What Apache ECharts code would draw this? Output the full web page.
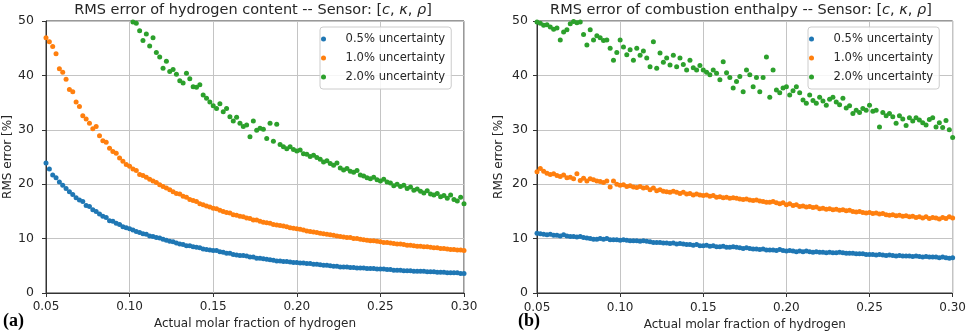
<!DOCTYPE html>
<html>
<head>
<meta charset="utf-8">
<script src="https://cdn.jsdelivr.net/npm/echarts@6/dist/echarts.min.js"></script>
<style>
  html, body { margin: 0; padding: 0; background: #fff; }
  #main { width: 969px; height: 336px; }
</style>
</head>
<body>
<div id="main"></div>
<script>
  // x samples (actual molar fraction of hydrogen)
  var molarFraction = [
    0.050, 0.052, 0.054, 0.056, 0.058, 0.060, 0.062, 0.064, 0.066, 0.068,
    0.070, 0.072, 0.074, 0.076, 0.078, 0.080, 0.082, 0.084, 0.086, 0.088,
    0.090, 0.092, 0.094, 0.096, 0.098, 0.100, 0.102, 0.104, 0.106, 0.108,
    0.110, 0.112, 0.114, 0.116, 0.118, 0.120, 0.122, 0.124, 0.126, 0.128,
    0.130, 0.132, 0.134, 0.136, 0.138, 0.140, 0.142, 0.144, 0.146, 0.148,
    0.150, 0.152, 0.154, 0.156, 0.158, 0.160, 0.162, 0.164, 0.166, 0.168,
    0.170, 0.172, 0.174, 0.176, 0.178, 0.180, 0.182, 0.184, 0.186, 0.188,
    0.190, 0.192, 0.194, 0.196, 0.198, 0.200, 0.202, 0.204, 0.206, 0.208,
    0.210, 0.212, 0.214, 0.216, 0.218, 0.220, 0.222, 0.224, 0.226, 0.228,
    0.230, 0.232, 0.234, 0.236, 0.238, 0.240, 0.242, 0.244, 0.246, 0.248,
    0.250, 0.252, 0.254, 0.256, 0.258, 0.260, 0.262, 0.264, 0.266, 0.268,
    0.270, 0.272, 0.274, 0.276, 0.278, 0.280, 0.282, 0.284, 0.286, 0.288,
    0.290, 0.292, 0.294, 0.296, 0.298, 0.300
  ];

  var seriesNames = ['0.5% uncertainty', '1.0% uncertainty', '2.0% uncertainty'];
  var seriesColors = ['#1f77b4', '#ff7f0e', '#2ca02c'];
  var xTickValues = [0.05, 0.10, 0.15, 0.20, 0.25, 0.30];

  // (a) RMS error of hydrogen content [%]
  var hydrogen05 = [
    23.9, 22.8, 21.7, 21.2, 20.4, 19.8, 19.2, 18.6, 18.1, 17.5,
    17.1, 16.8, 16.1, 15.9, 15.3, 15.0, 14.5, 14.1, 13.9, 13.3,
    13.2, 12.8, 12.6, 12.2, 12.0, 11.8, 11.6, 11.3, 11.1, 10.9,
    10.8, 10.5, 10.4, 10.2, 10.1, 9.9, 9.7, 9.5, 9.4, 9.2,
    9.0, 8.9, 8.7, 8.7, 8.5, 8.4, 8.3, 8.1, 8.0, 7.9,
    7.8, 7.8, 7.6, 7.5, 7.3, 7.3, 7.1, 7.0, 6.9, 6.9,
    6.8, 6.6, 6.6, 6.4, 6.4, 6.3, 6.2, 6.1, 6.0, 5.9,
    5.9, 5.8, 5.8, 5.7, 5.6, 5.6, 5.5, 5.5, 5.4, 5.4,
    5.3, 5.3, 5.2, 5.1, 5.1, 5.0, 4.9, 4.9, 4.8, 4.8,
    4.8, 4.7, 4.7, 4.6, 4.6, 4.6, 4.5, 4.5, 4.5, 4.4,
    4.4, 4.4, 4.3, 4.3, 4.2, 4.2, 4.2, 4.1, 4.1, 4.1,
    4.0, 4.0, 4.0, 4.0, 3.9, 3.9, 3.9, 3.8, 3.8, 3.8,
    3.7, 3.7, 3.7, 3.7, 3.6, 3.6
  ];
  var hydrogen10 = [
    46.9, 46.2, 45.3, 44.0, 41.2, 40.6, 39.3, 37.4, 37.0, 35.1,
    34.3, 32.6, 32.0, 31.2, 30.2, 30.6, 28.9, 28.0, 27.7, 26.6,
    26.0, 25.7, 24.8, 24.2, 23.6, 23.3, 22.8, 22.5, 21.8, 21.6,
    21.3, 20.9, 20.6, 20.3, 19.9, 19.6, 19.3, 19.0, 18.6, 18.3,
    18.2, 17.8, 17.6, 17.2, 17.0, 16.8, 16.4, 16.2, 16.0, 15.8,
    15.6, 15.5, 15.2, 15.0, 14.8, 14.7, 14.4, 14.3, 14.1, 14.0,
    13.8, 13.7, 13.4, 13.4, 13.2, 13.0, 12.9, 12.8, 12.6, 12.5,
    12.4, 12.3, 12.2, 12.0, 11.9, 11.8, 11.7, 11.6, 11.4, 11.3,
    11.2, 11.1, 11.0, 10.9, 10.8, 10.7, 10.6, 10.5, 10.4, 10.3,
    10.2, 10.2, 10.0, 10.0, 9.9, 9.8, 9.7, 9.6, 9.6, 9.5,
    9.4, 9.3, 9.3, 9.2, 9.1, 9.0, 9.0, 8.9, 8.8, 8.8,
    8.7, 8.6, 8.6, 8.5, 8.5, 8.4, 8.3, 8.3, 8.2, 8.2,
    8.1, 8.0, 8.0, 7.9, 7.9, 7.8
  ];
  var hydrogen20 = [
    null, null, null, null, null, null, null, null, null, null,
    null, null, null, null, null, null, null, null, null, null,
    null, null, null, null, null, null, 49.8, 49.6, 48.2, 46.4,
    47.6, 45.4, 46.9, 44.2, 43.4, 41.3, 42.6, 40.7, 41.1, 40.2,
    39.0, 38.6, 40.4, 39.4, 37.9, 37.8, 38.3, 36.4, 35.8, 35.1,
    34.4, 33.9, 34.8, 33.3, 33.9, 32.4, 31.6, 32.3, 31.2, 30.6,
    30.9, 28.7, 31.6, 29.9, 30.3, 30.1, 28.4, 31.2, 27.9, 31.0,
    27.3, 26.9, 26.5, 26.9, 26.4, 26.1, 26.3, 25.6, 25.5, 25.1,
    25.3, 24.9, 24.6, 24.1, 24.3, 23.8, 23.5, 23.9, 23.0, 22.6,
    22.9, 22.4, 22.2, 22.5, 21.7, 21.5, 21.2, 21.0, 21.3, 20.8,
    20.6, 20.9, 20.4, 20.2, 19.7, 20.0, 19.6, 19.8, 19.2, 19.5,
    18.9, 19.1, 18.7, 18.4, 18.8, 18.2, 18.0, 18.3, 17.7, 17.9,
    17.4, 18.0, 17.2, 16.9, 17.6, 16.4
  ];

  // (b) RMS error of combustion enthalpy [%]
  var enthalpy05 = [
    11.0, 10.9, 10.8, 10.7, 10.8, 10.6, 10.6, 10.5, 10.7, 10.5,
    10.4, 10.4, 10.3, 10.4, 10.2, 10.1, 10.0, 9.9, 9.9, 10.0,
    9.9, 10.0, 9.8, 9.8, 9.8, 9.7, 9.8, 9.7, 9.6, 9.6,
    9.6, 9.5, 9.6, 9.5, 9.4, 9.3, 9.3, 9.3, 9.2, 9.2,
    9.1, 9.2, 9.0, 9.1, 9.0, 8.9, 8.9, 8.8, 8.9, 8.7,
    8.7, 8.8, 8.6, 8.7, 8.5, 8.5, 8.6, 8.4, 8.4, 8.5,
    8.4, 8.3, 8.2, 8.3, 8.2, 8.1, 8.1, 8.0, 8.1, 7.9,
    7.9, 7.9, 7.8, 8.0, 7.8, 7.7, 7.8, 7.7, 7.6, 7.7,
    7.6, 7.7, 7.6, 7.5, 7.6, 7.5, 7.5, 7.4, 7.5, 7.4,
    7.4, 7.5, 7.4, 7.3, 7.3, 7.3, 7.2, 7.2, 7.2, 7.1,
    7.1, 7.1, 7.0, 7.1, 7.0, 6.9, 7.0, 6.9, 6.8, 6.9,
    6.8, 6.8, 6.8, 6.7, 6.8, 6.7, 6.6, 6.7, 6.6, 6.6,
    6.6, 6.5, 6.6, 6.5, 6.4, 6.5
  ];
  var enthalpy10 = [
    22.3, 22.9, 22.4, 22.0, 21.8, 21.9, 21.6, 21.4, 21.7, 21.2,
    21.3, 21.0, 21.9, 20.7, 21.1, 20.6, 21.0, 20.8, 20.6, 20.5,
    20.3, 20.6, 19.5, 20.6, 20.0, 19.8, 19.9, 19.6, 19.7, 19.5,
    19.4, 19.6, 19.3, 19.4, 19.0, 19.3, 18.8, 19.0, 18.7, 18.6,
    18.5, 18.7, 18.5, 18.3, 18.5, 18.2, 18.3, 18.0, 18.2, 18.0,
    17.9, 18.0, 17.8, 17.9, 17.6, 17.7, 17.5, 17.6, 17.4, 17.5,
    17.4, 17.3, 17.2, 17.3, 17.1, 17.0, 17.1, 16.9, 16.8, 16.7,
    16.7, 16.8, 16.6, 16.4, 16.6, 16.2, 16.4, 16.1, 16.2, 15.9,
    16.0, 15.8, 15.9, 15.7, 15.8, 15.5, 15.6, 15.4, 15.5, 15.3,
    15.4, 15.2, 15.3, 15.1, 15.2, 15.0, 14.9, 15.0, 14.8, 14.7,
    14.8, 14.6, 14.7, 14.5, 14.6, 14.4, 14.3, 14.4, 14.2, 14.3,
    14.1, 14.2, 14.0, 14.1, 13.9, 14.0, 13.8, 14.0, 13.7, 13.9,
    13.8, 13.6, 13.9, 13.7, 14.0, 13.8
  ];
  var enthalpy20 = [
    49.8, 49.6, 49.2, 49.3, 48.9, 48.5, 48.7, 46.5, 48.0, 48.4,
    49.5, 49.9, 49.7, 49.8, 47.5, 45.6, 48.4, 46.5, 47.3, 46.9,
    46.4, 46.5, 45.0, 42.8, 44.2, 46.5, 45.2, 43.8, 44.7, 42.8,
    45.0, 43.7, 44.5, 43.2, 41.6, 46.2, 41.3, 44.1, 42.4, 43.2,
    41.9, 43.7, 41.6, 43.2, 42.0, 41.0, 42.8, 41.4, 41.0, 41.8,
    41.0, 40.6, 40.1, 41.0, 40.4, 39.2, 42.5, 40.5, 39.6, 37.7,
    38.9, 39.8, 37.0, 41.0, 40.1, 37.9, 39.6, 37.0, 39.6, 43.4,
    36.0, 41.0, 37.3, 36.8, 37.7, 37.9, 36.4, 37.2, 37.9, 36.8,
    35.5, 34.9, 36.4, 35.4, 34.9, 36.0, 35.3, 34.5, 35.6, 36.0,
    35.1, 34.6, 35.8, 34.0, 34.4, 33.0, 33.6, 33.2, 33.9, 33.6,
    34.5, 33.4, 33.6, 30.5, 33.2, 32.6, 33.0, 32.4, 31.2, 32.6,
    32.0, 30.8, 32.2, 31.6, 32.2, 31.8, 31.3, 30.9, 31.9, 32.2,
    30.5, 31.3, 30.4, 31.7, 30.0, 28.6
  ];

  var textColor = '#262626';
  var font = 'DejaVu Sans';

  function toPoints(values) {
    var pts = [];
    for (var i = 0; i < molarFraction.length; i++) {
      if (values[i] != null) pts.push([molarFraction[i], values[i]]);
    }
    return pts;
  }

  function makeX(idx, labelMargin, nameGap) {
    return {
      type: 'value', gridIndex: idx,
      min: xTickValues[0], max: xTickValues[xTickValues.length - 1], interval: 0.05,
      name: 'Actual molar fraction of hydrogen', nameLocation: 'middle', nameGap: nameGap,
      nameTextStyle: { fontFamily: font, fontSize: 12, color: textColor },
      axisLine: { show: true, lineStyle: { color: '#333', width: 1 } },
      axisTick: { show: true, inside: false, length: 4, lineStyle: { color: '#333' } },
      axisLabel: {
        fontFamily: font, fontSize: 12, color: textColor, margin: labelMargin,
        formatter: function(v) { return v.toFixed(2); }
      },
      splitLine: { show: true, lineStyle: { color: '#c4c4c4', width: 1 } }
    };
  }

  function makeY(idx, labelMargin, nameGap) {
    return {
      type: 'value', gridIndex: idx, min: 0, max: 50, interval: 10,
      name: 'RMS error [%]', nameLocation: 'middle', nameRotate: 90, nameGap: nameGap,
      nameTextStyle: { fontFamily: font, fontSize: 12, color: textColor },
      axisLine: { show: true, lineStyle: { color: '#333', width: 1 } },
      axisTick: { show: true, inside: false, length: 4, lineStyle: { color: '#333' } },
      axisLabel: { fontFamily: font, fontSize: 12.5, color: textColor, margin: labelMargin },
      splitLine: { show: true, lineStyle: { color: '#c4c4c4', width: 1 } }
    };
  }

  function makeSeries(values, k, idx) {
    return {
      type: 'scatter', name: seriesNames[k],
      xAxisIndex: idx, yAxisIndex: idx,
      data: toPoints(values),
      symbol: 'circle', symbolSize: 5,
      itemStyle: { color: seriesColors[k], opacity: 1 },
      emphasis: { disabled: true },
      silent: true
    };
  }

  function makeLegend(left) {
    return {
      orient: 'vertical', left: left, top: 27,
      data: seriesNames, icon: 'circle',
      itemWidth: 34, itemHeight: 5, itemGap: 5,
      padding: [5, 6, 5, 1],
      selectedMode: false,
      backgroundColor: 'rgba(255,255,255,0.85)',
      borderColor: '#cccccc', borderWidth: 1, borderRadius: 3,
      textStyle: { fontFamily: font, fontSize: 11.6, lineHeight: 14, color: textColor }
    };
  }

  var titleRich = {
    i: { fontFamily: font, fontStyle: 'italic', fontSize: 14.5, color: textColor }
  };

  var chart = echarts.init(document.getElementById('main'));
  chart.setOption({
    animation: false,
    backgroundColor: '#fff',
    color: seriesColors,
    title: [
      {
        text: 'RMS error of hydrogen content -- Sensor: [{i|c}, {i|κ}, {i|ρ}]',
        left: 253, top: 3, textAlign: 'center', padding: 0,
        textStyle: { fontFamily: font, fontSize: 14.5, fontWeight: 'normal', color: textColor, rich: titleRich }
      },
      {
        text: 'RMS error of combustion enthalpy -- Sensor: [{i|c}, {i|κ}, {i|ρ}]',
        left: 741, top: 3, textAlign: 'center', padding: 0,
        textStyle: { fontFamily: font, fontSize: 14.5, fontWeight: 'normal', color: textColor, rich: titleRich }
      },
      {
        text: '(a)', left: 3, top: 312, padding: 0,
        textStyle: { fontFamily: 'Liberation Serif', fontSize: 18, fontWeight: 'bold', color: '#000' }
      },
      {
        text: '(b)', left: 518, top: 312, padding: 0,
        textStyle: { fontFamily: 'Liberation Serif', fontSize: 18, fontWeight: 'bold', color: '#000' }
      }
    ],
    legend: [makeLegend(320), makeLegend(808)],
    grid: [
      { left: 46, top: 21, width: 418, height: 272, show: true, borderColor: '#333', borderWidth: 1, backgroundColor: 'transparent' },
      { left: 537, top: 21, width: 418, height: 272, show: true, borderColor: '#333', borderWidth: 1, backgroundColor: 'transparent' }
    ],
    xAxis: [makeX(0, 8, 25), makeX(1, 9, 25)],
    yAxis: [makeY(0, 12, 29), makeY(1, 9, 32)],
    series: [
      makeSeries(hydrogen05, 0, 0),
      makeSeries(hydrogen10, 1, 0),
      makeSeries(hydrogen20, 2, 0),
      makeSeries(enthalpy05, 0, 1),
      makeSeries(enthalpy10, 1, 1),
      makeSeries(enthalpy20, 2, 1)
    ]
  });
</script>
</body>
</html>
